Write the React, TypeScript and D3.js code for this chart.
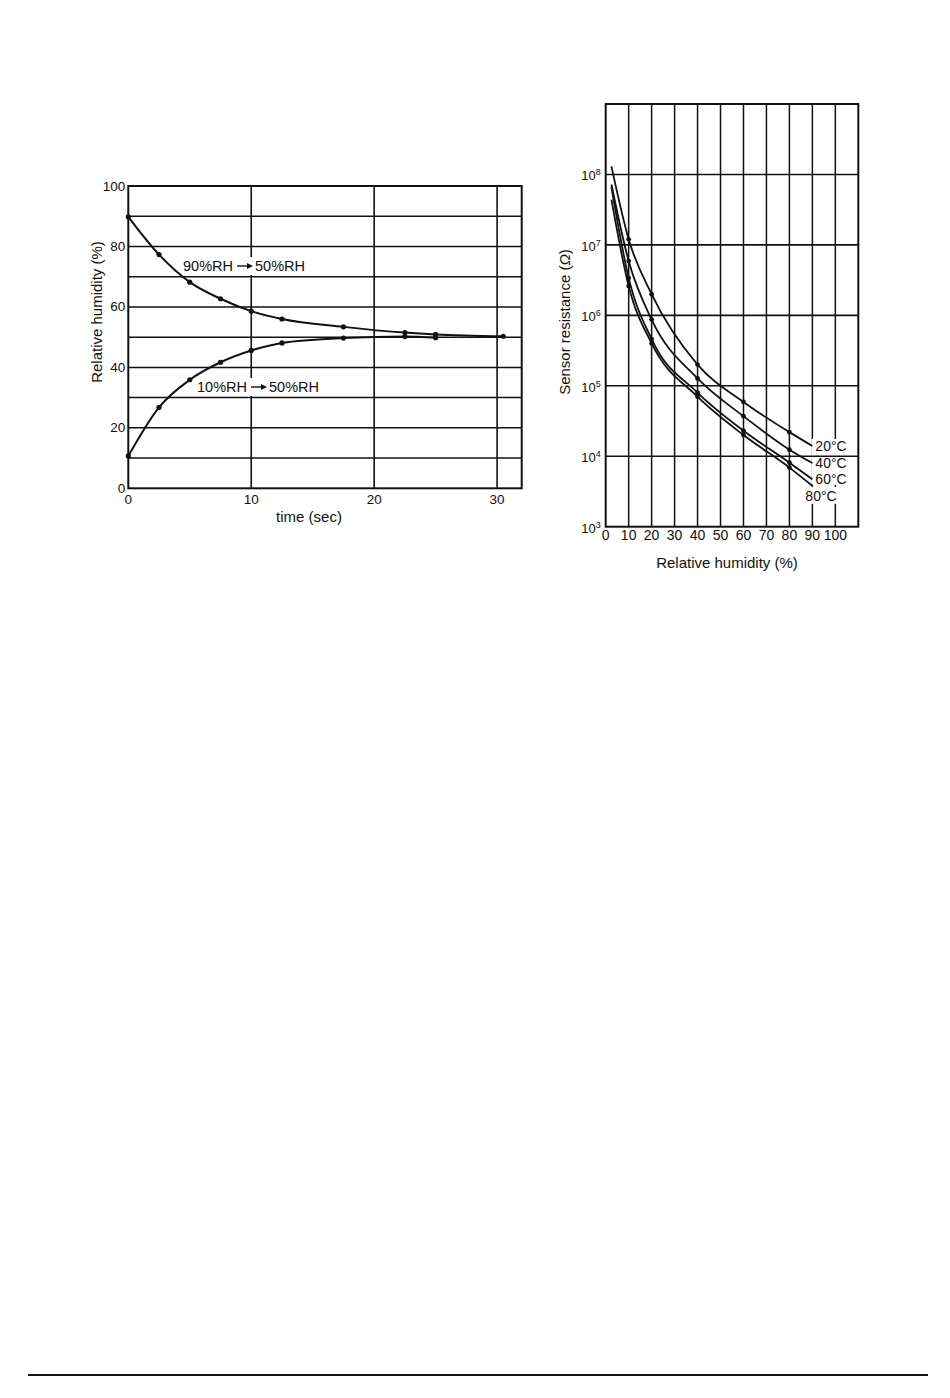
import React from "react";
import * as d3 from "d3";

// ---- Left chart: response time ----
const dryTime = [0, 2.5, 5, 7.5, 10, 12.5, 17.5, 22.5, 25, 30.5];
const dryRH = [89.8, 77.3, 68.2, 62.7, 58.6, 56.0, 53.4, 51.5, 50.9, 50.3];
const wetTime = [0, 2.5, 5, 7.5, 10, 12.5, 17.5, 22.5, 25];
const wetRH = [10.7, 26.8, 35.9, 41.7, 45.6, 48.1, 49.7, 50.2, 49.8];
const leftXTicks = [0, 10, 20, 30];
const leftYLabels = [0, 20, 40, 60, 80, 100];
const leftYGrid = [10, 20, 30, 40, 50, 60, 70, 80, 90];

// ---- Right chart: resistance vs humidity ----
const humidity = [2.5, 10, 20, 40, 60, 80, 90];
const res20 = [1.3e8, 1.2e7, 2.0e6, 2.0e5, 5.9e4, 2.2e4, 1.4e4];
const res40 = [7.2e7, 5.9e6, 8.7e5, 1.27e5, 3.7e4, 1.24e4, 8.0e3];
const res60 = [6.6e7, 3.4e6, 4.6e5, 8.0e4, 2.3e4, 8.1e3, 4.7e3];
const res80 = [4.4e7, 2.6e6, 4.0e5, 7.0e4, 2.0e4, 6.9e3, 3.8e3];
const tempLabels = ["20°C", "40°C", "60°C", "80°C"];
const rightXTicks = [0, 10, 20, 30, 40, 50, 60, 70, 80, 90, 100];
const rightYExps = [3, 4, 5, 6, 7, 8];

const FONT = "'Liberation Sans', Arial, Helvetica, sans-serif";
const INK = "#111";

function Label({ x, y, parts }: { x: number; y: number; parts: [string, string] }) {
  // "A → B" label with white background and drawn arrow
  const w1 = 50;
  const gap = 4;
  const arrowLen = 16;
  const xa = x + w1 + gap;
  const xb = xa + arrowLen + 2;
  return (
    <g>
      <rect x={x - 2} y={y - 9} width={w1 * 2 + gap + arrowLen + 6} height={18} fill="#fff" />
      <text x={x} y={y} dominantBaseline="central" fontSize={14.5} textLength={w1} lengthAdjust="spacingAndGlyphs">
        {parts[0]}
      </text>
      <line x1={xa} x2={xa + arrowLen - 5} y1={y} y2={y} stroke={INK} strokeWidth={1.4} />
      <path d={`M${xa + arrowLen - 6},${y - 3} L${xa + arrowLen},${y} L${xa + arrowLen - 6},${y + 3} Z`} fill={INK} />
      <text x={xb} y={y} dominantBaseline="central" fontSize={14.5} textLength={w1} lengthAdjust="spacingAndGlyphs">
        {parts[1]}
      </text>
    </g>
  );
}

function LeftChart() {
  const x = d3.scaleLinear().domain([0, 32]).range([128.3, 521.7]);
  const y = d3.scaleLinear().domain([0, 100]).range([488.3, 186]);
  const line = d3
    .line<[number, number]>()
    .x((d) => x(d[0]))
    .y((d) => y(d[1]))
    .curve(d3.curveMonotoneX);
  const dry = dryTime.map((t, i) => [t, dryRH[i]] as [number, number]);
  const wet = wetTime.map((t, i) => [t, wetRH[i]] as [number, number]);
  const [x0, x1] = x.range();
  const [y0, y1] = y.range();
  return (
    <g fontFamily={FONT} fill={INK}>
      {leftYGrid.map((v) => (
        <line key={"h" + v} x1={x0} x2={x1} y1={y(v)} y2={y(v)} stroke={INK} strokeWidth={1.5} />
      ))}
      {leftXTicks.slice(1).map((v) => (
        <line key={"v" + v} x1={x(v)} x2={x(v)} y1={y0} y2={y1} stroke={INK} strokeWidth={1.6} />
      ))}
      <Label x={183} y={266} parts={["90%RH", "50%RH"]} />
      <Label x={197} y={387} parts={["10%RH", "50%RH"]} />
      <rect x={x0} y={y1} width={x1 - x0} height={y0 - y1} fill="none" stroke={INK} strokeWidth={2} />
      <path d={line(dry) || ""} fill="none" stroke={INK} strokeWidth={2} />
      <path d={line(wet) || ""} fill="none" stroke={INK} strokeWidth={2} />
      {dry.map((d, i) => (
        <circle key={"dp" + i} cx={x(d[0])} cy={y(d[1])} r={2.6} fill={INK} />
      ))}
      {wet.map((d, i) => (
        <circle key={"wp" + i} cx={x(d[0])} cy={y(d[1])} r={2.6} fill={INK} />
      ))}
      {leftYLabels.map((v) => (
        <text key={"yl" + v} x={x0 - 3} y={y(v)} textAnchor="end" dominantBaseline="central" fontSize={13.5}>
          {v}
        </text>
      ))}
      {leftXTicks.map((v) => (
        <text key={"xl" + v} x={x(v)} y={499} textAnchor="middle" dominantBaseline="central" fontSize={13.5}>
          {v}
        </text>
      ))}
      <text x={309} y={516} textAnchor="middle" dominantBaseline="central" fontSize={15}>
        time (sec)
      </text>
      <text
        transform={`translate(96,312) rotate(-90)`}
        textAnchor="middle"
        dominantBaseline="central"
        fontSize={15}
      >
        Relative humidity (%)
      </text>
    </g>
  );
}

function RightChart() {
  const x = d3.scaleLinear().domain([0, 110]).range([605.7, 858.3]);
  const y = d3.scaleLog().domain([1e3, 1e9]).range([526.7, 104]);
  const line = d3
    .line<[number, number]>()
    .x((d) => x(d[0]))
    .y((d) => y(d[1]))
    .curve(d3.curveMonotoneX);
  const series = [res20, res40, res60, res80].map((s) =>
    humidity.map((h, i) => [h, s[i]] as [number, number])
  );
  const [x0, x1] = x.range();
  const [y0, y1] = y.range();
  const endX = x(humidity[humidity.length - 1]);
  const endY20 = y(res20[res20.length - 1]);
  const endY80 = y(res80[res80.length - 1]);
  return (
    <g fontFamily={FONT} fill={INK}>
      {rightXTicks.slice(1).map((v) => (
        <line key={"v" + v} x1={x(v)} x2={x(v)} y1={y0} y2={y1} stroke={INK} strokeWidth={1.5} />
      ))}
      {/* white patch behind temperature labels */}
      <rect x={endX - 1} y={endY20 - 7} width={x(102) - endX + 8} height={endY80 - endY20 + 6} fill="#fff" />
      <rect x={endX - 9} y={endY80 + 1} width={36} height={17} fill="#fff" />
      {rightYExps.slice(1).map((e) => (
        <line key={"h" + e} x1={x0} x2={x1} y1={y(Math.pow(10, e))} y2={y(Math.pow(10, e))} stroke={INK} strokeWidth={1.6} />
      ))}
      <rect x={x0} y={y1} width={x1 - x0} height={y0 - y1} fill="none" stroke={INK} strokeWidth={2} />
      {series.map((s, k) => (
        <path key={"s" + k} d={line(s) || ""} fill="none" stroke={INK} strokeWidth={1.8} />
      ))}
      {series.map((s, k) =>
        s.slice(1, 6).map((d, i) => (
          <circle key={"m" + k + "-" + i} cx={x(d[0])} cy={y(d[1])} r={2.4} fill={INK} />
        ))
      )}
      {series.map((s, k) => {
        const last = s[s.length - 1];
        const isLast = k === 3;
        return (
          <text
            key={"tl" + k}
            x={isLast ? x(last[0]) - 7 : x(last[0]) + 3}
            y={isLast ? y(last[1]) + 10 : y(last[1])}
            dominantBaseline="central"
            fontSize={14}
          >
            {tempLabels[k]}
          </text>
        );
      })}
      {rightYExps.map((e) => (
        <text key={"yl" + e} x={x0 - 5} y={y(Math.pow(10, e)) + 6} textAnchor="end" fontSize={13}>
          10
          <tspan fontSize={9} dy={-5}>{e}</tspan>
        </text>
      ))}
      {rightXTicks.map((v) => (
        <text key={"xl" + v} x={x(v)} y={535} textAnchor="middle" dominantBaseline="central" fontSize={14}>
          {v}
        </text>
      ))}
      <text x={727} y={562} textAnchor="middle" dominantBaseline="central" fontSize={15}>
        Relative humidity (%)
      </text>
      <text
        transform={`translate(564,322) rotate(-90)`}
        textAnchor="middle"
        dominantBaseline="central"
        fontSize={15}
      >
        Sensor resistance (<tspan fontStyle="italic">Ω</tspan>)
      </text>
    </g>
  );
}

export default function App() {
  return (
    <svg
      width={950}
      height={1398}
      style={{ position: "absolute", left: 0, top: 0, background: "#fff" }}
    >
      <rect x={0} y={0} width={950} height={1398} fill="#fff" />
      <LeftChart />
      <RightChart />
      <line x1={28} x2={928} y1={1375} y2={1375} stroke={INK} strokeWidth={2} />
    </svg>
  );
}
